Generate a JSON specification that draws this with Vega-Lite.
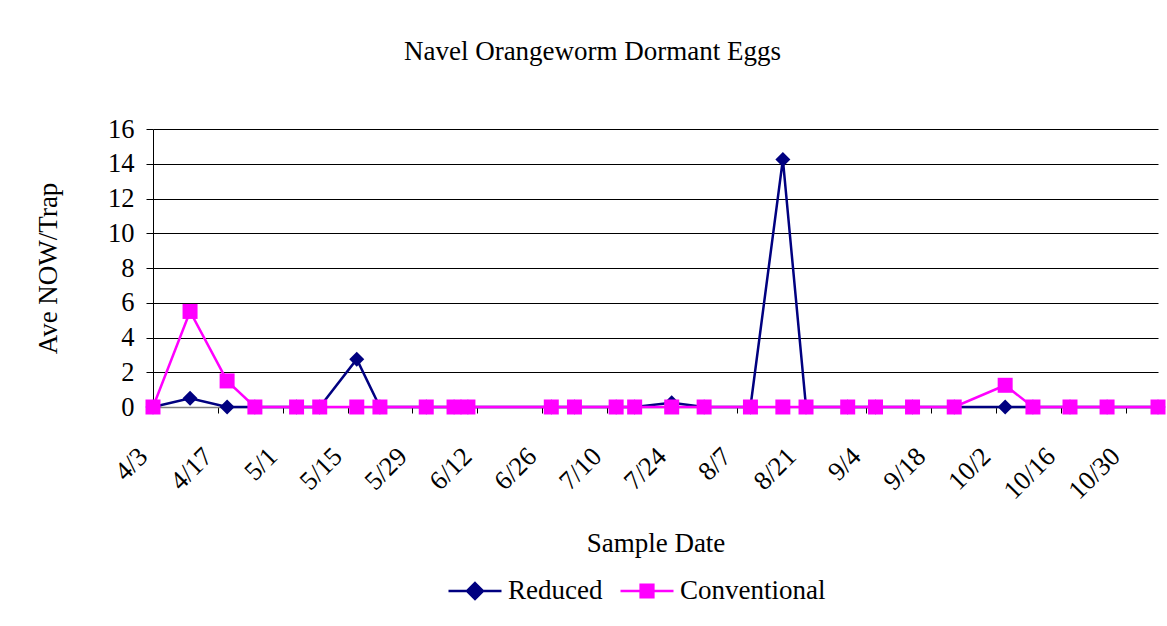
{
  "$schema": "https://vega.github.io/schema/vega-lite/v6.json",
  "width": 1005,
  "height": 278,
  "autosize": "none",
  "padding": {"left": 153, "top": 129, "right": 9, "bottom": 219},
  "background": "white",
  "config": {"view": {"stroke": null}, "font": "Liberation Serif"},
  "title": {"text": "Navel Orangeworm Dormant Eggs", "font": "Liberation Serif", "fontSize": 27, "fontWeight": "normal", "color": "black", "anchor": "middle", "frame": "group", "dx": -63, "offset": 50},
  "data": {"values": [
    {"date": "2007-04-03T00:00:00", "series": "Reduced", "value": 0},
    {"date": "2007-04-11T00:00:00", "series": "Reduced", "value": 0.5},
    {"date": "2007-04-19T00:00:00", "series": "Reduced", "value": 0},
    {"date": "2007-04-25T00:00:00", "series": "Reduced", "value": 0},
    {"date": "2007-05-04T00:00:00", "series": "Reduced", "value": 0},
    {"date": "2007-05-09T00:00:00", "series": "Reduced", "value": 0},
    {"date": "2007-05-17T00:00:00", "series": "Reduced", "value": 2.75},
    {"date": "2007-05-22T00:00:00", "series": "Reduced", "value": 0},
    {"date": "2007-06-01T00:00:00", "series": "Reduced", "value": 0},
    {"date": "2007-06-07T00:00:00", "series": "Reduced", "value": 0},
    {"date": "2007-06-10T00:00:00", "series": "Reduced", "value": 0},
    {"date": "2007-06-28T00:00:00", "series": "Reduced", "value": 0},
    {"date": "2007-07-03T00:00:00", "series": "Reduced", "value": 0},
    {"date": "2007-07-12T00:00:00", "series": "Reduced", "value": 0},
    {"date": "2007-07-16T00:00:00", "series": "Reduced", "value": 0},
    {"date": "2007-07-24T00:00:00", "series": "Reduced", "value": 0.25},
    {"date": "2007-07-31T00:00:00", "series": "Reduced", "value": 0},
    {"date": "2007-08-10T00:00:00", "series": "Reduced", "value": 0},
    {"date": "2007-08-17T00:00:00", "series": "Reduced", "value": 14.25},
    {"date": "2007-08-22T00:00:00", "series": "Reduced", "value": 0},
    {"date": "2007-08-31T00:00:00", "series": "Reduced", "value": 0},
    {"date": "2007-09-06T00:00:00", "series": "Reduced", "value": 0},
    {"date": "2007-09-14T00:00:00", "series": "Reduced", "value": 0},
    {"date": "2007-09-23T00:00:00", "series": "Reduced", "value": 0},
    {"date": "2007-10-04T00:00:00", "series": "Reduced", "value": 0},
    {"date": "2007-10-10T00:00:00", "series": "Reduced", "value": 0},
    {"date": "2007-10-18T00:00:00", "series": "Reduced", "value": 0},
    {"date": "2007-10-26T00:00:00", "series": "Reduced", "value": 0},
    {"date": "2007-11-06T00:00:00", "series": "Reduced", "value": 0},
    {"date": "2007-04-03T00:00:00", "series": "Conventional", "value": 0},
    {"date": "2007-04-11T00:00:00", "series": "Conventional", "value": 5.5},
    {"date": "2007-04-19T00:00:00", "series": "Conventional", "value": 1.5},
    {"date": "2007-04-25T00:00:00", "series": "Conventional", "value": 0},
    {"date": "2007-05-04T00:00:00", "series": "Conventional", "value": 0},
    {"date": "2007-05-09T00:00:00", "series": "Conventional", "value": 0},
    {"date": "2007-05-17T00:00:00", "series": "Conventional", "value": 0},
    {"date": "2007-05-22T00:00:00", "series": "Conventional", "value": 0},
    {"date": "2007-06-01T00:00:00", "series": "Conventional", "value": 0},
    {"date": "2007-06-07T00:00:00", "series": "Conventional", "value": 0},
    {"date": "2007-06-10T00:00:00", "series": "Conventional", "value": 0},
    {"date": "2007-06-28T00:00:00", "series": "Conventional", "value": 0},
    {"date": "2007-07-03T00:00:00", "series": "Conventional", "value": 0},
    {"date": "2007-07-12T00:00:00", "series": "Conventional", "value": 0},
    {"date": "2007-07-16T00:00:00", "series": "Conventional", "value": 0},
    {"date": "2007-07-24T00:00:00", "series": "Conventional", "value": 0},
    {"date": "2007-07-31T00:00:00", "series": "Conventional", "value": 0},
    {"date": "2007-08-10T00:00:00", "series": "Conventional", "value": 0},
    {"date": "2007-08-17T00:00:00", "series": "Conventional", "value": 0},
    {"date": "2007-08-22T00:00:00", "series": "Conventional", "value": 0},
    {"date": "2007-08-31T00:00:00", "series": "Conventional", "value": 0},
    {"date": "2007-09-06T00:00:00", "series": "Conventional", "value": 0},
    {"date": "2007-09-14T00:00:00", "series": "Conventional", "value": 0},
    {"date": "2007-09-23T00:00:00", "series": "Conventional", "value": 0},
    {"date": "2007-10-04T00:00:00", "series": "Conventional", "value": 1.25},
    {"date": "2007-10-10T00:00:00", "series": "Conventional", "value": 0},
    {"date": "2007-10-18T00:00:00", "series": "Conventional", "value": 0},
    {"date": "2007-10-26T00:00:00", "series": "Conventional", "value": 0},
    {"date": "2007-11-06T00:00:00", "series": "Conventional", "value": 0}
  ]},
  "encoding": {
    "x": {
      "field": "date", "type": "temporal", "title": "Sample Date",
      "scale": {"domain": [{"year": 2007, "month": 4, "date": 3}, {"year": 2007, "month": 11, "date": 6}]},
      "axis": {
        "values": [
          {"year": 2007, "month": 4, "date": 3}, {"year": 2007, "month": 4, "date": 17},
          {"year": 2007, "month": 5, "date": 1}, {"year": 2007, "month": 5, "date": 15},
          {"year": 2007, "month": 5, "date": 29}, {"year": 2007, "month": 6, "date": 12},
          {"year": 2007, "month": 6, "date": 26}, {"year": 2007, "month": 7, "date": 10},
          {"year": 2007, "month": 7, "date": 24}, {"year": 2007, "month": 8, "date": 7},
          {"year": 2007, "month": 8, "date": 21}, {"year": 2007, "month": 9, "date": 4},
          {"year": 2007, "month": 9, "date": 18}, {"year": 2007, "month": 10, "date": 2},
          {"year": 2007, "month": 10, "date": 16}, {"year": 2007, "month": 10, "date": 30}
        ],
        "format": "%-m/%-d",
        "labelAngle": -45, "labelAlign": "right", "labelBaseline": "middle",
        "labelFont": "Liberation Serif", "labelFontSize": 26.5, "labelColor": "black",
        "labelPadding": 39, "labelOffset": -10, "labelOverlap": false, "labelFlush": false,
        "grid": false, "domainColor": "#808080", "domainWidth": 1.5,
        "tickColor": "black", "tickSize": 6,
        "titleFont": "Liberation Serif", "titleFontSize": 27, "titleFontWeight": "normal", "titleColor": "black",
        "titleY": 136, "titleBaseline": "middle"
      }
    },
    "y": {
      "field": "value", "type": "quantitative", "title": "Ave NOW/Trap",
      "scale": {"domain": [0, 16], "nice": false},
      "axis": {
        "values": [0, 2, 4, 6, 8, 10, 12, 14, 16],
        "grid": true, "gridColor": "black", "gridWidth": 1,
        "domainColor": "black", "tickColor": "black", "tickSize": 7,
        "labelFont": "Liberation Serif", "labelFontSize": 26.5, "labelColor": "black", "labelPadding": 12,
        "titleFont": "Liberation Serif", "titleFontSize": 27, "titleFontWeight": "normal", "titleColor": "black",
        "titleX": -105, "titleY": 139, "titleBaseline": "middle"
      }
    },
    "color": {
      "field": "series", "type": "nominal",
      "scale": {"domain": ["Reduced", "Conventional"], "range": ["#000080", "#FF00FF"]},
      "legend": {
        "orient": "none", "legendX": 294, "legendY": 434, "direction": "horizontal", "title": null, "padding": 0,
        "labelFont": "Liberation Serif", "labelFontSize": 27, "labelColor": "black",
        "symbolSize": 2809, "symbolStrokeWidth": 2.5, "labelOffset": 5, "columnPadding": 12,
        "encode": {
          "symbols": {
            "update": {
              "shape": {"signal": "datum.value === 'Reduced' ? 'M-1,0L1,0M0,-0.3L0.3,0L0,0.3L-0.3,0Z' : 'M-1,0L1,0M-0.24,-0.24L0.24,-0.24L0.24,0.24L-0.24,0.24Z'"},
              "fill": {"signal": "datum.value === 'Reduced' ? '#000080' : '#FF00FF'"},
              "stroke": {"signal": "datum.value === 'Reduced' ? '#000080' : '#FF00FF'"},
              "strokeWidth": {"value": 2.5},
              "opacity": {"value": 1},
              "size": {"value": 2809}
            }
          }
        }
      }
    }
  },
  "layer": [
    {"transform": [{"filter": "datum.series === 'Reduced'"}], "mark": {"type": "line", "strokeWidth": 2.5}},
    {"transform": [{"filter": "datum.series === 'Reduced'"}], "mark": {"type": "point", "filled": true, "opacity": 1, "size": 225, "shape": "diamond"}},
    {"transform": [{"filter": "datum.series === 'Conventional'"}], "mark": {"type": "line", "strokeWidth": 2.5}},
    {"transform": [{"filter": "datum.series === 'Conventional'"}], "mark": {"type": "point", "filled": true, "opacity": 1, "size": 225, "shape": "square"}}
  ]
}
